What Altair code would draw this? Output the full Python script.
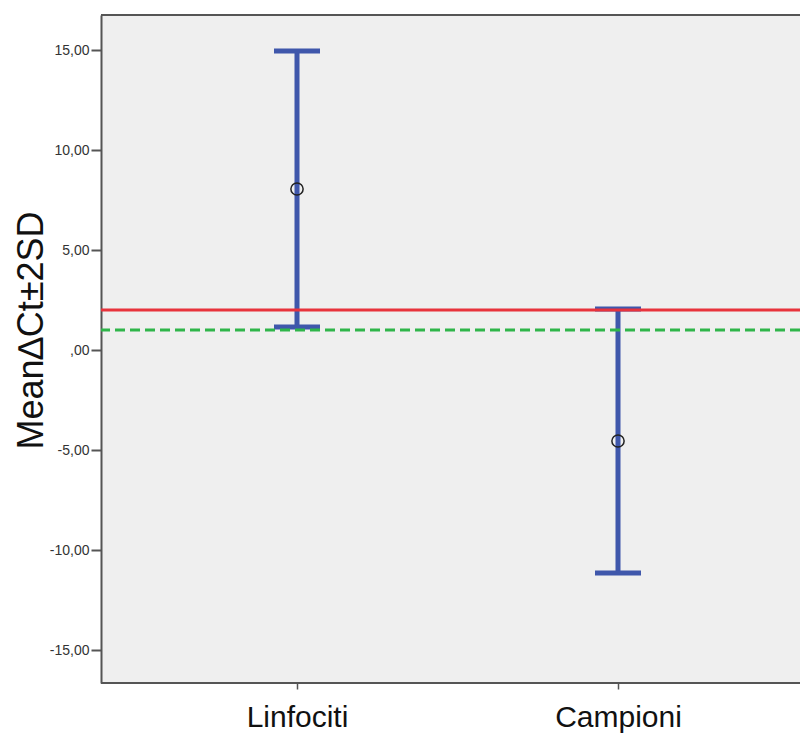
import altair as alt
import pandas as pd

# Group summaries: mean delta-Ct and the ±2SD interval
groups = ["Linfociti", "Campioni"]
means = [8.05, -4.55]
lower = [1.15, -11.15]
upper = [14.95, 2.05]

# Horizontal reference levels
red_level = [2.0]
green_level = [1.0]

df = pd.DataFrame({"group": groups, "mean": means, "low": lower, "high": upper})
ref_red = pd.DataFrame({"v": red_level})
ref_green = pd.DataFrame({"v": green_level})

W, H = 699, 668
BLUE = "#3f57ab"
AXIS_GRAY = "#555"

x_enc = alt.X(
    "group:N",
    sort=groups,
    scale=alt.Scale(type="point", range=[196, 517], padding=0),
    axis=alt.Axis(
        title=None,
        labelFontSize=30,
        labelColor="#111",
        labelFont="Liberation Sans",
        labelPadding=13,
        labelAngle=0,
        tickSize=6,
        tickColor=AXIS_GRAY,
        tickWidth=1.5,
        domain=False,
        grid=False,
    ),
)

y_scale = alt.Scale(domain=[-16.65, 16.75], nice=False, zero=False)
y_axis = alt.Axis(
    title="Mean∆Ct±2SD",
    titleFontSize=36,
    titleFont="Liberation Sans",
    titleFontWeight="normal",
    titleColor="#111",
    titleAngle=-90,
    titleX=-70,
    titleY=315,
    titleBaseline="middle",
    titleAlign="center",
    values=[-15, -10, -5, 0, 5, 10, 15],
    labelExpr="datum.value == 0 ? ',00' : (datum.value < 0 ? '-' : '') + replace(format(abs(datum.value), '.2f'), '.', ',')",
    labelFontSize=14,
    labelFont="Liberation Sans",
    labelColor="#333",
    labelPadding=2,
    tickSize=10,
    tickColor=AXIS_GRAY,
    tickWidth=2,
    domainColor=AXIS_GRAY,
    domainWidth=2,
    grid=False,
)

bars = alt.Chart(df).mark_rule(color=BLUE, strokeWidth=5).encode(
    x=x_enc,
    y=alt.Y("low:Q", scale=y_scale, axis=y_axis),
    y2="high:Q",
)

cap_hi = alt.Chart(df).mark_tick(color=BLUE, thickness=5, size=46, opacity=1).encode(
    x=alt.X("group:N", sort=groups), y=alt.Y("high:Q")
)
cap_lo = alt.Chart(df).mark_tick(color=BLUE, thickness=5, size=46, opacity=1).encode(
    x=alt.X("group:N", sort=groups), y=alt.Y("low:Q")
)

red_rule = alt.Chart(ref_red).mark_rule(color="#e8333c", strokeWidth=3).encode(
    y="v:Q"
)
green_rule = alt.Chart(ref_green).mark_rule(
    color="#2fb54a", strokeWidth=3, strokeDash=[10, 5]
).encode(y="v:Q")

points = alt.Chart(df).mark_point(
    shape="circle", size=150, filled=False, color="#222", strokeWidth=1.5, opacity=1
).encode(x=alt.X("group:N", sort=groups), y=alt.Y("mean:Q"))

# Frame lines along the top and bottom of the plot area
top_border = alt.Chart(df).mark_rule(color=AXIS_GRAY, strokeWidth=2).encode(
    x=alt.value(0), x2=alt.value(W), y=alt.value(0)
)
bottom_border = alt.Chart(df).mark_rule(color=AXIS_GRAY, strokeWidth=2).encode(
    x=alt.value(0), x2=alt.value(W), y=alt.value(H)
)

chart = (
    alt.layer(bars, cap_hi, cap_lo, red_rule, green_rule, points, top_border, bottom_border)
    .properties(
        width=W,
        height=H,
        autosize=alt.AutoSizeParams(type="none"),
        padding={"left": 101, "top": 15, "right": 0, "bottom": 57},
        background="white",
    )
    .configure_view(fill="#efefef", stroke=None)
)

chart.save("out.html", embed_options={"renderer": "svg", "actions": False})
